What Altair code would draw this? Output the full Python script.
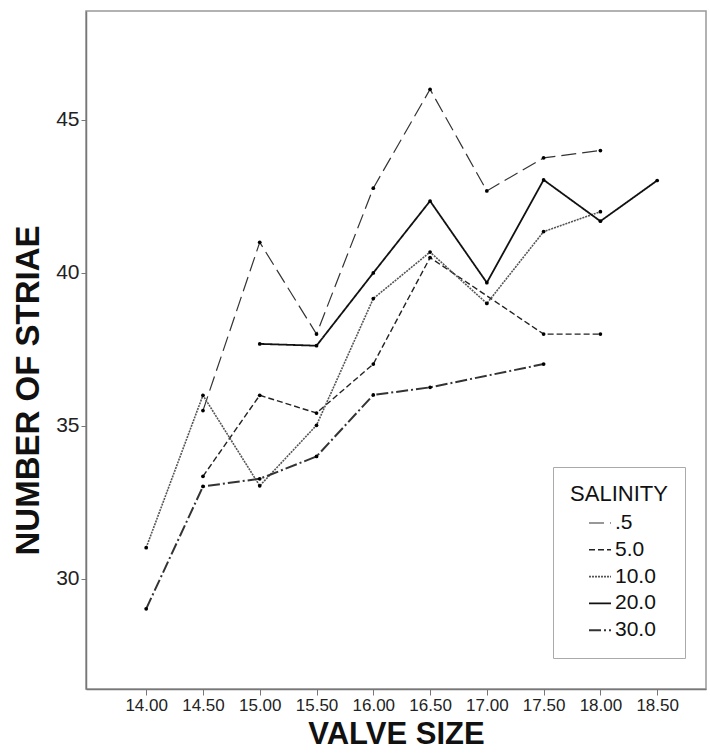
import altair as alt
import pandas as pd

valve_size = [14.0, 14.5, 15.0, 15.5, 16.0, 16.5, 17.0, 17.5, 18.0, 18.5]
salinity_labels = [".5", "5.0", "10.0", "20.0", "30.0"]
striae_s05 = [None, 35.5, 41.0, 38.0, 42.77, 46.0, 42.68, 43.76, 44.0, None]
striae_s5 = [None, 33.35, 36.0, 35.42, 37.02, 40.5, None, 38.0, 38.0, None]
striae_s10 = [31.02, 36.0, 33.04, 35.02, 39.16, 40.68, 39.0, 41.35, 42.0, None]
striae_s20 = [None, None, 37.68, 37.62, 40.0, 42.35, 39.68, 43.04, 41.69, 43.02]
striae_s30 = [29.02, 33.02, 33.27, 34.0, 36.01, 36.26, None, 37.02, None, None]
y_ticks = [30, 35, 40, 45]

rows = []
for lab, vals in zip(salinity_labels,
                     [striae_s05, striae_s5, striae_s10, striae_s20, striae_s30]):
    for xv, v in zip(valve_size, vals):
        if v is not None:
            rows.append({"valve": xv, "striae": v, "SALINITY": lab})
df = pd.DataFrame(rows)

FONT = "Liberation Sans"

x_enc = alt.X(
    "valve:Q",
    scale=alt.Scale(domain=[13.47, 18.93], nice=False, zero=False),
    axis=alt.Axis(values=valve_size, format=".2f", title="VALVE SIZE", grid=False,
                  labelFontSize=17, titleFontSize=31, titleFontWeight="bold",
                  tickSize=6, labelPadding=2, titlePadding=6, labelFlush=False,
                  labelColor="#222", titleColor="#111"),
)
y_enc = alt.Y(
    "striae:Q",
    scale=alt.Scale(domain=[26.4, 48.56], nice=False, zero=False),
    axis=alt.Axis(values=y_ticks, title="NUMBER OF STRIAE", grid=False,
                  labelFontSize=21, titleFontSize=33, titleFontWeight="bold",
                  tickSize=5, labelPadding=2, labelFlush=False,
                  titleX=-41, titleY=379, titleAngle=270, titleBaseline="bottom",
                  titleAlign="center",
                  labelColor="#222", titleColor="#111"),
)

sal_scale_dash = alt.Scale(domain=salinity_labels,
                           range=[[15, 6], [6, 3], [2, 1], [1, 0], [12, 3, 2, 3]])
sal_scale_width = alt.Scale(domain=salinity_labels, range=[1.2, 2.0, 1.0, 2.6, 1.1])
sal_scale_color = alt.Scale(domain=salinity_labels,
                            range=["#333333", "#222222", "#555555", "#111111", "#333333"])

lines = alt.Chart(df).mark_line().encode(
    x=x_enc,
    y=y_enc,
    strokeDash=alt.StrokeDash("SALINITY:N", scale=sal_scale_dash, title="SALINITY"),
    strokeWidth=alt.StrokeWidth("SALINITY:N", scale=sal_scale_width, title="SALINITY"),
    color=alt.Color("SALINITY:N", scale=sal_scale_color, title="SALINITY"),
    detail="SALINITY:N",
)

points = alt.Chart(df).mark_circle(color="black", opacity=1, size=14).encode(
    x="valve:Q", y="striae:Q"
)

chart = alt.layer(lines, points).properties(
    width=620, height=678,
    autosize=alt.AutoSizeParams(type="none"),
    padding={"left": 86, "top": 11, "right": 4, "bottom": 67},
).configure(
    font=FONT,
).configure_view(
    stroke="#999999", strokeWidth=1.5,
).configure_axis(
    domainColor="#777777", tickColor="#777777", domainWidth=1.5,
    labelFont=FONT, titleFont=FONT,
).configure_legend(
    orient="none", legendX=467, legendY=456,
    strokeColor="#aaaaaa", fillColor="white", padding=17,
    titleFontSize=22, titleFontWeight="normal", titleColor="#111",
    titleAnchor="middle", titlePadding=5,
    labelFontSize=21, labelColor="#111", labelOffset=3,
    symbolType="stroke", symbolSize=484, symbolOffset=6,
    rowPadding=4.8, titleFont=FONT, labelFont=FONT,
)

chart.save("out.html", embed_options={"renderer": "svg", "actions": False})
